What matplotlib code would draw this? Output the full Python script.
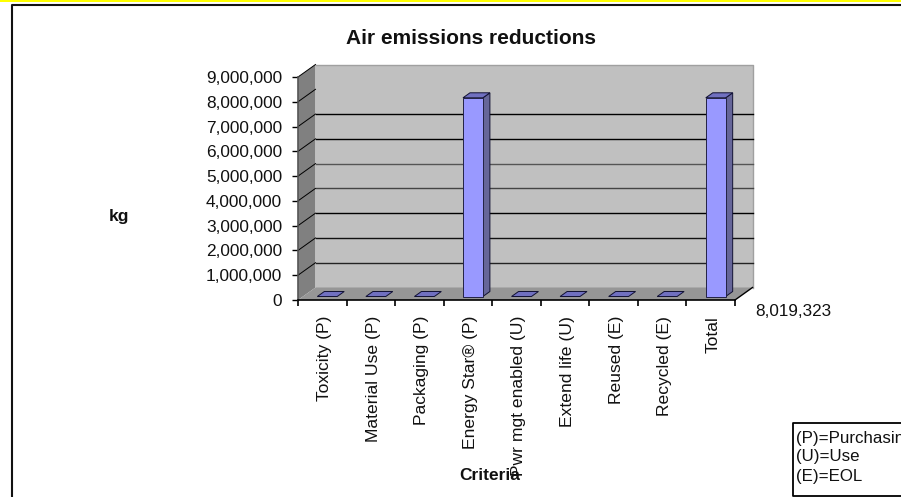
import matplotlib
matplotlib.use('Agg')
import numpy as np
import matplotlib.pyplot as plt
from matplotlib.transforms import Affine2D

###################################################################################################
# Data

categories = ['Toxicity (P)', 'Material Use (P)', 'Packaging (P)', 'Energy Star\u00ae (P)',
              'Pwr mgt enabled (U)', 'Extend life (U)', 'Reused (E)', 'Recycled (E)', 'Total']
values = [0, 0, 0, 8019323, 0, 0, 0, 0, 8019323]
y_ticks = [0, 1000000, 2000000, 3000000, 4000000, 5000000, 6000000, 7000000, 8000000, 9000000]
wall_lines = [1000000, 2000000, 3000000, 4000000, 5000000, 6000000, 7000000]
wall_line_colors = ['#222222', '#111111', '#000000', '#444444', '#555555', '#000000', '#000000']
legend_lines = ['(P)=Purchasing', '(U)=Use', '(E)=EOL']
total_label = '8,019,323'

###################################################################################################
# Settings

W, H = 901, 497
plt.rcParams['font.family'] = ['Liberation Sans', 'DejaVu Sans']
tick_size = 12.6

# depth of the fake 3d box, in pixels
depth_x, depth_y = 17.5, 12.5
# bars sit in the middle of the box
bar_dx, bar_dy = 5, 3.5
bar_depth_x, bar_depth_y = 7, 5
bar_width = 0.41

def fx(x):
    return x / W

def fy(y):
    return 1 - y / H

###################################################################################################
# Figure

fig = plt.figure(figsize=(W / 100, H / 100), dpi=100, facecolor='white')
ax = fig.add_axes([fx(298), fy(300), (735 - 298) / W, (300 - 77) / H])
ax.patch.set_visible(False)
ax.set_xlim(-0.5, 8.5)
ax.set_ylim(0, 9000000)

back = ax.transData + Affine2D().translate(depth_x, depth_y)
x0, x1 = ax.get_xlim()
y0, y1 = ax.get_ylim()

# walls and floor
ax.fill([x0, x1, x1, x0], [y0, y0, y1, y1], color='#C0C0C0', transform=back, clip_on=False, zorder=1, lw=0)
ax.plot([x0, x1, x1], [y1, y1, y0], color='#A0A0A0', lw=1, transform=back, clip_on=False, zorder=1.5)

p0 = ax.transData.transform((x0, y0))
p1 = ax.transData.transform((x0, y1))
p2 = ax.transData.transform((x1, y0))
d = np.array([depth_x, depth_y])
side = np.array([p0, p1, p1 + d, p0 + d])
floor = np.array([p0, p2, p2 + d, p0 + d])
ax.fill(side[:, 0], side[:, 1], color='#808080', transform=None, clip_on=False, zorder=1, lw=0)
ax.fill(floor[:, 0], floor[:, 1], color='#969696', transform=None, clip_on=False, zorder=1, lw=0)

# gridlines on the back wall
for v, c in zip(wall_lines, wall_line_colors):
    ax.plot([x0, x1], [v, v], color=c, lw=1, transform=back, clip_on=False, zorder=2)

# slanted lines on the side wall
for v in y_ticks[1:]:
    p = ax.transData.transform((x0, v))
    ax.plot([p[0], p[0] + d[0]], [p[1], p[1] + d[1]], color='black', lw=0.7,
            transform=None, clip_on=False, zorder=2)
ax.plot([p2[0], p2[0] + d[0]], [p2[1], p2[1] + d[1]], color='black', lw=1,
        transform=None, clip_on=False, zorder=2)

###################################################################################################
# Bars

bar_front = ax.transData + Affine2D().translate(bar_dx, bar_dy)
to_px = bar_front.transform
for i, v in enumerate(values):
    left, right = i - bar_width / 2, i + bar_width / 2
    ll, lr = to_px((left, v)), to_px((right, v))
    br = to_px((right, 0))
    dd = np.array([bar_depth_x, bar_depth_y])
    top = np.array([ll, lr, lr + dd, ll + dd])
    if v > 0:
        sd = np.array([br, lr, lr + dd, br + dd])
        ax.fill(sd[:, 0], sd[:, 1], facecolor='#666699', edgecolor='#111133', lw=0.7,
                transform=None, clip_on=False, zorder=3)
    ax.fill(top[:, 0], top[:, 1], facecolor='#7070C0', edgecolor='#111133', lw=0.7,
            transform=None, clip_on=False, zorder=3)
    if v > 0:
        ax.bar(i, v, bar_width, color='#9999FF', edgecolor='#222244', lw=0.7,
               transform=bar_front, clip_on=False, zorder=4)

###################################################################################################
# Axes and text

for s in ['top', 'right']:
    ax.spines[s].set_visible(False)
for s in ['left', 'bottom']:
    ax.spines[s].set_linewidth(1.2)
    ax.spines[s].set_zorder(5)
ax.spines['left'].set_color('#555555')

ax.set_yticks(y_ticks)
ax.set_yticklabels([format(t, ',') for t in y_ticks], fontsize=12.4, color='#111111')
ax.tick_params(axis='y', length=4, width=1, pad=7.5)
# labels sit a touch right of the category centre
ax.set_xticks(np.arange(len(categories)) + 0.05)
ax.set_xticklabels(categories, rotation=90, fontsize=tick_size, color='#111111')
ax.set_xticks(np.arange(len(categories) + 1) - 0.5, minor=True)
ax.tick_params(axis='x', which='major', length=0, pad=11.5)
ax.tick_params(axis='x', which='minor', length=4, width=1.2)

fig.text(fx(471), fy(38), 'Air emissions reductions', fontsize=15, fontweight='bold',
         ha='center', va='center', color='#111111')
fig.text(fx(119), fy(217), 'kg', fontsize=12.5, fontweight='bold', ha='center', va='center', color='#111111')
fig.text(fx(490), fy(475), 'Criteria', fontsize=12.5, fontweight='bold', ha='center', va='center', color='#111111')
fig.text(fx(755), fy(311), total_label, fontsize=12.3, ha='left', va='center', color='#111111')

# key box, runs off the right hand edge
fig.add_artist(plt.Line2D([fx(W + 5), fx(793), fx(793), fx(W + 5)], [fy(423), fy(423), fy(496), fy(496)],
                          color='black', lw=1.3))
for txt, y in zip(legend_lines, [438, 457, 476]):
    fig.text(fx(796), fy(y), txt, fontsize=12.2, ha='left', va='center', color='#111111')

# outer frame and the yellow strip along the top
fig.add_artist(plt.Rectangle((0, fy(1.5)), 1, 1.5 / H, facecolor='#FFFF00', edgecolor='none'))
fig.add_artist(plt.Line2D([fx(12), fx(12), 1], [0, fy(5), fy(5)], color='#111111', lw=1.5))

fig.savefig('out.png', dpi=100)
